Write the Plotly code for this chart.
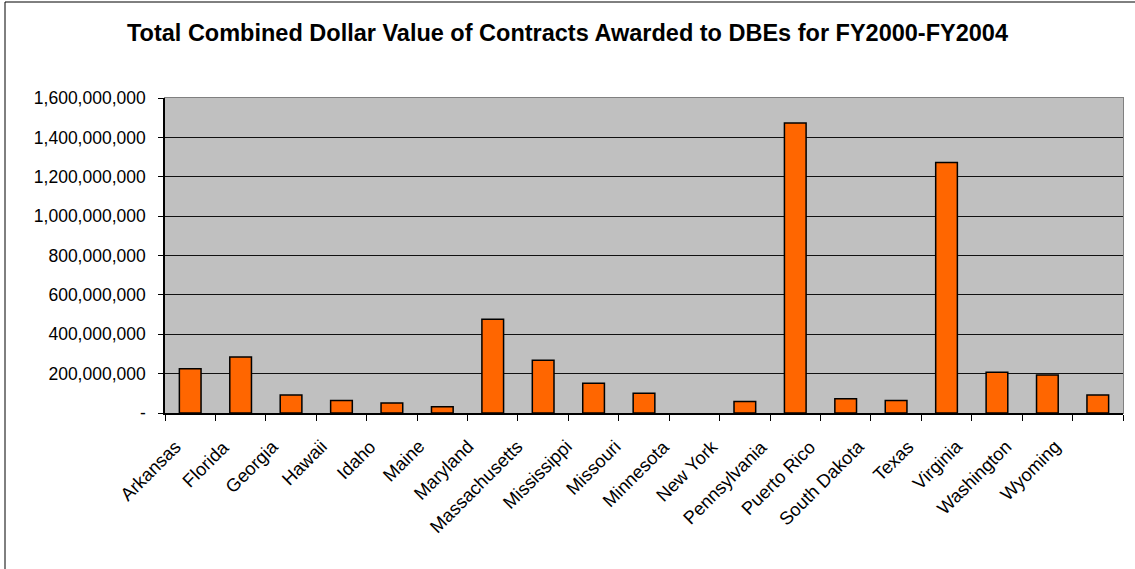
import plotly.graph_objects as go

states = ["Arkansas", "Florida", "Georgia", "Hawaii", "Idaho", "Maine", "Maryland",
          "Massachusetts", "Mississippi", "Missouri", "Minnesota", "New York",
          "Pennsylvania", "Puerto Rico", "South Dakota", "Texas", "Virginia",
          "Washington", "Wyoming"]
values = [225e6, 284e6, 91e6, 64e6, 51e6, 32e6, 476e6,
          268e6, 151e6, 100e6, None, 58e6,
          1473e6, 73e6, 64e6, 1273e6, 207e6,
          193e6, 91e6]
ytickvals = [0, 200e6, 400e6, 600e6, 800e6, 1000e6, 1200e6, 1400e6, 1600e6]
yticktext = ["-", "200,000,000", "400,000,000", "600,000,000", "800,000,000",
             "1,000,000,000", "1,200,000,000", "1,400,000,000", "1,600,000,000"]
title = "Total Combined Dollar Value of Contracts Awarded to DBEs for FY2000-FY2004"

W, H = 1135, 569
L, R, T, B = 165, 1123, 98, 413

fig = go.Figure()
# invisible helper trace defining the category label axis (Excel-style label drift)
fig.add_trace(go.Scatter(x=states, y=[0] * len(states), xaxis="x", yaxis="y",
                         mode="none", hoverinfo="skip", showlegend=False))
fig.add_trace(go.Bar(
    x=states, y=values, xaxis="x2", yaxis="y",
    marker=dict(color="#FF6600", line=dict(color="black", width=1.5)),
    width=0.43, hoverinfo="x+y",
))

def px(x):
    return (x - L) / (R - L)

def py(y):
    return (B - y) / (B - T)

annotations = [
    dict(x=s, y=0, xref="x", yref="y", text=s, showarrow=False,
         textangle=-45, xanchor="right", yanchor="top",
         xshift=-2, yshift=-20,
         font=dict(size=18.3, family="Liberation Sans, Arial", color="black"))
    for s in states
]

fig.update_layout(
    width=W, height=H,
    margin=dict(l=L, r=W - R, t=T, b=H - B, autoexpand=False),
    paper_bgcolor="white",
    plot_bgcolor="#C0C0C0",
    font=dict(family="Liberation Sans, Arial", color="black", size=17),
    title=dict(text="<b>" + title + "</b>", x=0.5, xanchor="center",
               y=1 - 33 / H, yanchor="middle",
               font=dict(size=23.5, family="Liberation Sans, Arial", color="black")),
    showlegend=False,
    bargap=0.5,
    xaxis=dict(
        type="category", domain=[0, 0.969], anchor="y",
        categoryorder="array", categoryarray=states,
        range=[-0.5, len(states) - 0.5],
        visible=False, showgrid=False, zeroline=False,
    ),
    xaxis2=dict(
        type="category", domain=[0, 1], anchor="y",
        categoryorder="array", categoryarray=states,
        range=[-0.5, len(states) - 0.5],
        ticks="outside", tickson="boundaries",
        ticklen=6, tickcolor="black", tickwidth=1, showline=True, linecolor="black", linewidth=1.5,
        showgrid=False, showticklabels=False,
    ),
    yaxis=dict(
        range=[0, 1600e6], tickvals=ytickvals, ticktext=yticktext,
        ticks="outside", ticklen=5, tickcolor="black",
        showline=True, linecolor="black", linewidth=1.5,
        showgrid=True, gridcolor="#111111", gridwidth=1,
        zeroline=False, tickfont=dict(size=17.5),
        ticklabelstandoff=9,
    ),
    annotations=annotations,
    shapes=[
        dict(type="rect", xref="paper", yref="paper", x0=0, x1=1, y0=0, y1=1,
             line=dict(color="#808080", width=2), layer="below"),
        dict(type="rect", xref="paper", yref="paper",
             x0=px(5), x1=px(1145), y0=py(580), y1=py(2),
             line=dict(color="black", width=1)),
    ],
)

fig.write_html("out.html")
